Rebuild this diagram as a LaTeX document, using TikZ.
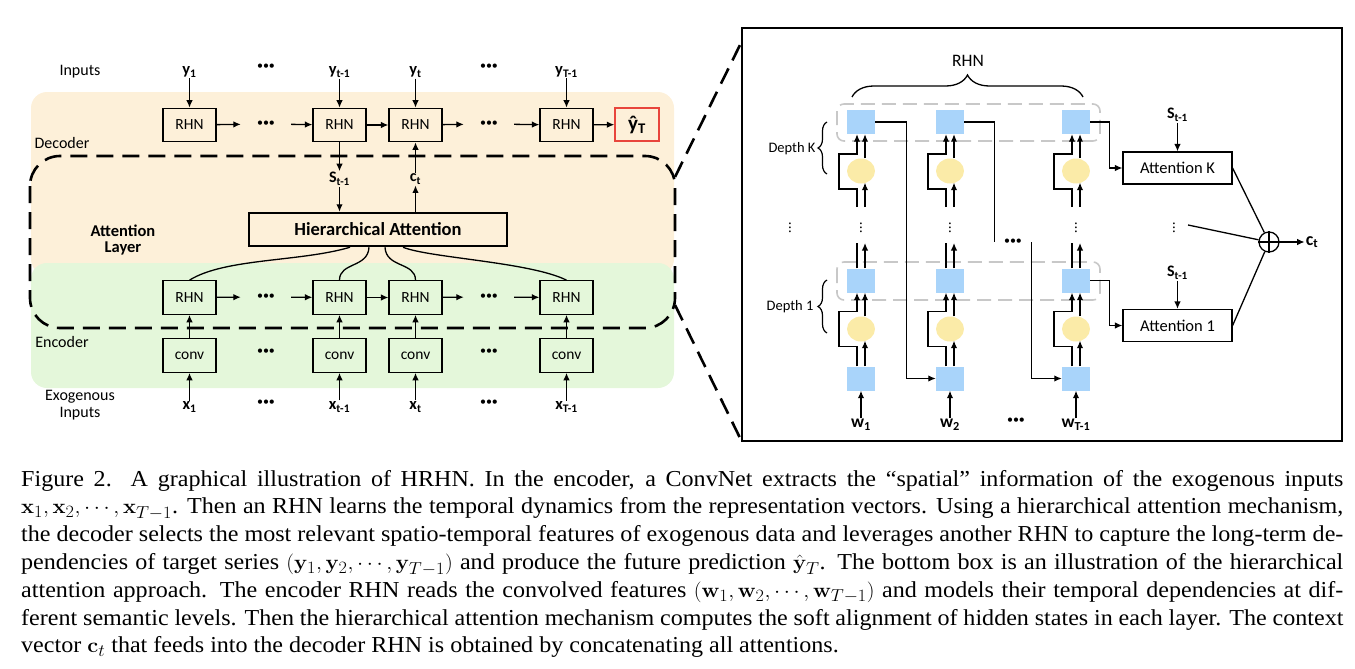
\documentclass[tikz,border=0pt]{standalone}
\usepackage[no-math]{fontspec}
\usepackage{graphicx}
\setmainfont{Liberation Serif}
\newfontfamily\diafont{Carlito}
\usetikzlibrary{arrows.meta,decorations.pathreplacing,shapes.geometric,calc}
\definecolor{decbg}{HTML}{FDF0D9}
\definecolor{encbg}{HTML}{E4F7DA}
\definecolor{sqblue}{HTML}{A9D4FA}
\definecolor{circyel}{HTML}{FBEBA8}
\definecolor{dashgray}{HTML}{C8C8C8}
\definecolor{redbox}{HTML}{E8453C}
\newcommand{\fsz}[1]{\fontsize{#1}{#1}\selectfont}
\tikzset{
  lbox/.style={draw, line width=1.2pt, minimum width=53pt, minimum height=33.5pt, inner sep=0, font=\diafont\fsz{15.5}},
  arr/.style={-{Latex[length=7.5pt,width=6.5pt]}, line width=1.3pt},
  ln/.style={line width=1.3pt},
  hdots/.style={minimum width=50pt, inner sep=0, font=\diafont\fsz{12}},
  lab/.style={inner sep=1pt, font=\diafont\fsz{16}},
  blab/.style={inner sep=1pt, font=\diafont\bfseries\fsz{16.5}},
  sq/.style={fill=sqblue, minimum width=28pt, minimum height=24pt, inner sep=0},
  yc/.style={ellipse, fill=circyel, minimum width=28pt, minimum height=25pt, inner sep=0},
  vd/.style={inner sep=0, font=\fsz{15}},
  bigdash/.style={line width=2.6pt, dash pattern=on 17pt off 9pt},
  graydash/.style={draw=dashgray, line width=1.6pt, dash pattern=on 14pt off 7pt, rounded corners=7pt},
  attbox/.style={draw, line width=1.2pt, minimum width=109pt, minimum height=32pt, inner sep=0, font=\diafont\fsz{16.5}},
}
\begin{document}
\begin{tikzpicture}[x=1pt,y=-1pt]
\useasboundingbox (0,0) rectangle (1355,669);
% ---------- left: backgrounds ----------
\fill[decbg, rounded corners=16pt] (31,92) rectangle (674,275);
\fill[encbg, rounded corners=16pt] (31,263) rectangle (674,388);
\draw[bigdash, rounded corners=30pt] (30,156) rectangle (675,328);
% labels
\node[lab] (inputs) at (80,72) {Inputs};
\node[lab] (decl) at (62,143) {Decoder};
\node[blab, align=center, font=\diafont\bfseries\fontsize{16.5}{16}\selectfont] (attl) at (123,240) {Attention\\Layer};
\node[lab] (encl) at (62,342) {Encoder};
\node[lab, align=center, font=\diafont\fontsize{16}{17.5}\selectfont] (exol) at (80,405) {Exogenous\\Inputs};
% decoder row
\node[blab] (y1) at (189.5,72) {y\textsubscript{1}};
\node[hdots] (ydots1) at (266,67) {•••};
\node[blab] (y2) at (339.5,72) {y\textsubscript{t-1}};
\node[blab] (y3) at (415.5,72) {y\textsubscript{t}};
\node[hdots] (ydots2) at (489,67) {•••};
\node[blab] (y4) at (566.5,72) {y\textsubscript{T-1}};
\node[lbox] (d1) at (189.5,125) {RHN};
\node[hdots] (dd1) at (266,124) {•••};
\node[lbox] (d2) at (339.5,125) {RHN};
\node[lbox] (d3) at (415.5,125) {RHN};
\node[hdots] (dd2) at (489,124) {•••};
\node[lbox] (d4) at (566.5,125) {RHN};
\node[draw=redbox, line width=1.3pt, minimum width=44pt, minimum height=33pt, inner sep=0, font=\diafont\bfseries\fsz{21}] (yh) at (637,124.5) {ŷ\textsubscript{T}};
\foreach \a/\b in {y1/d1,y2/d2,y3/d3,y4/d4} \draw[arr] (\b |- \a.south) -- (\b);
\draw[arr] (d1) -- (dd1); \draw[arr] (dd1) -- (d2); \draw[arr] (d2) -- (d3);
\draw[arr] (d3) -- (dd2); \draw[arr] (dd2) -- (d4); \draw[arr] (d4) -- (yh);
% attention
\node[draw, line width=2.5pt, minimum width=258pt, minimum height=33pt, inner sep=0, font=\diafont\bfseries\fsz{18.5}] (ha) at (378,229.5) {Hierarchical Attention};
\node[blab, font=\diafont\bfseries\fsz{16}] (s) at (339.5,179) {S\textsubscript{t-1}};
\node[blab, font=\diafont\bfseries\fsz{16}] (c) at (415.5,179) {c\textsubscript{t}};
\draw[arr] (d2) -- (d2 |- s.north);
\draw[arr] (s.south) -- (s.south |- ha.north);
\draw[arr] (c.south |- ha.north) -- (c.south);
\draw[arr] (c) -- (d3);
% encoder row
\node[lbox] (e1) at (189.5,297.5) {RHN};
\node[hdots] (ed1) at (266,297) {•••};
\node[lbox] (e2) at (339.5,297.5) {RHN};
\node[lbox] (e3) at (415.5,297.5) {RHN};
\node[hdots] (ed2) at (489,297) {•••};
\node[lbox] (e4) at (566.5,297.5) {RHN};
\draw[arr] (e1) -- (ed1); \draw[arr] (ed1) -- (e2); \draw[arr] (e2) -- (e3);
\draw[arr] (e3) -- (ed2); \draw[arr] (ed2) -- (e4);
\draw[ln] (e1.north) .. controls (225,258) and (300,262) .. ([xshift=-28pt]ha.south);
\draw[ln] (e2.north) .. controls (339.5,262) and (368,268) .. ([xshift=-9pt]ha.south);
\draw[ln] (e3.north) .. controls (415.5,262) and (386,268) .. ([xshift=7pt]ha.south);
\draw[ln] (e4.north) .. controls (530,262) and (430,258) .. ([xshift=25pt]ha.south);
% conv row
\node[lbox] (k1) at (189.5,355.5) {conv};
\node[hdots] (kd1) at (266,352) {•••};
\node[lbox] (k2) at (339.5,355.5) {conv};
\node[lbox] (k3) at (415.5,355.5) {conv};
\node[hdots] (kd2) at (489,352) {•••};
\node[lbox] (k4) at (566.5,355.5) {conv};
\foreach \a/\b in {k1/e1,k2/e2,k3/e3,k4/e4} \draw[arr] (\a) -- (\b);
\node[blab] (x1) at (189.5,407) {x\textsubscript{1}};
\node[hdots] (xd1) at (266,403) {•••};
\node[blab] (x2) at (339.5,407) {x\textsubscript{t-1}};
\node[blab] (x3) at (415.5,407) {x\textsubscript{t}};
\node[hdots] (xd2) at (489,403) {•••};
\node[blab] (x4) at (566.5,407) {x\textsubscript{T-1}};
\foreach \a/\b in {x1/k1,x2/k2,x3/k3,x4/k4} \draw[arr] (\b |- \a.north) -- (\b);
% projection lines
\coordinate (pu) at (675,177);
\coordinate (pl) at (675,305);
\coordinate (ptl) at (740,45);
\coordinate (pbl) at (741,440);
\draw[bigdash] (pu) -- (ptl);
\draw[bigdash] (pl) -- (pbl);
% ---------- right panel ----------
\draw[line width=2pt] (742,28) rectangle (1342,441);
\draw[graydash] (837,104) rectangle (1100,141);
\draw[graydash] (837,262) rectangle (1100,300);
\node[lab, font=\diafont\fsz{17.5}] (rhnl) at (968,61) {RHN};
\coordinate (brl) at (852,97);
\coordinate (brr) at (1083,97);
\draw[line width=1.3pt, decorate, decoration={brace, amplitude=22pt}] (brl) -- (brr);
\node[lab, font=\diafont\fsz{14.5}] (dK) at (792,149) {Depth K};
\node[lab, font=\diafont\fsz{14.5}] (d1l) at (790,307) {Depth 1};
\coordinate (bk1) at (827,174); \coordinate (bk2) at (827,122);
\coordinate (bo1) at (827,333); \coordinate (bo2) at (827,280);
\draw[line width=1.2pt, decorate, decoration={brace, amplitude=9pt}] (bk1) -- (bk2);
\draw[line width=1.2pt, decorate, decoration={brace, amplitude=9pt}] (bo1) -- (bo2);
\node[vd] (lvd) at (790,225) {$\vdots$};
\foreach \c/\n in {861/a,950/b,1076/c} {
  \node[sq] (sqK\n) at (\c,122) {};
  \node[yc] (ciK\n) at (\c,171) {};
  \node[sq] (sqO\n) at (\c,280.5) {};
  \node[yc] (ciO\n) at (\c,329) {};
  \node[sq] (sqZ\n) at (\c,378.5) {};
  \coordinate (kb\n) at (\c,207);
  \coordinate (ot\n) at (\c,243);
  \node[vd] (cd\n) at (\c,225) {$\vdots$};
  \draw[arr] ([xshift=4pt]ciK\n.north) -- ([xshift=4pt]sqK\n.south);
  \draw[arr] ([xshift=4pt]kb\n) -- ([xshift=4pt,yshift=1pt]ciK\n.south);
  \draw[arr] ([xshift=-4pt]kb\n) -- ++(0,-18) -- ++(-18,0) -- ++(0,-35) -- ++(18,0) -- ([xshift=-4pt]sqK\n.south);
  \draw[arr] ([xshift=4pt]sqO\n.north) -- ([xshift=4pt]ot\n);
  \draw[ln] ([xshift=-4pt]sqO\n.north) -- ([xshift=-4pt]ot\n);
  \draw[arr] ([xshift=4pt]ciO\n.north) -- ([xshift=4pt]sqO\n.south);
  \draw[arr] ([xshift=4pt]sqZ\n.north) -- ([xshift=4pt,yshift=1pt]ciO\n.south);
  \draw[arr] ([xshift=-4pt]sqZ\n.north) -- ++(0,-20) -- ++(-18,0) -- ++(0,-35) -- ++(18,0) -- ([xshift=-4pt]sqO\n.south);
}
\node[blab, font=\diafont\bfseries\fsz{17.5}] (w1) at (861,425) {w\textsubscript{1}};
\node[blab, font=\diafont\bfseries\fsz{17.5}] (w2) at (950,425) {w\textsubscript{2}};
\node[hdots] (wd) at (1016,421) {•••};
\node[blab, font=\diafont\bfseries\fsz{17.5}] (w3) at (1076,425) {w\textsubscript{T-1}};
\draw[arr] (sqZa |- w1.north) -- (sqZa);
\draw[arr] (sqZb |- w2.north) -- (sqZb);
\draw[arr] (sqZc |- w3.north) -- (sqZc);
% cross-column connectors
\node[hdots, minimum width=36pt] (rd) at (1013,242) {•••};
\draw[arr] (sqKa.east) -- ++(31,0) |- (sqZb.west);
\draw[ln] (sqKb.east) -| (rd.west);
\draw[arr] (rd.east) |- (sqZc.west);
% attention
\node[attbox] (attK) at (1177.5,168) {Attention K};
\node[attbox] (att1) at (1177.5,325.5) {Attention 1};
\draw[arr] (sqKc.east) -- ++(19,0) |- (attK.west);
\draw[arr] (sqOc.east) -- ++(19,0) |- (att1.west);
\node[blab, font=\diafont\bfseries\fsz{16}] (sK) at (1177.5,115) {S\textsubscript{t-1}};
\node[blab, font=\diafont\bfseries\fsz{16}] (s1) at (1177.5,273) {S\textsubscript{t-1}};
\draw[arr] (attK |- sK.south) -- (attK);
\draw[arr] (att1 |- s1.south) -- (att1);
\node[vd] (avd) at (1174,225) {$\vdots$};
\node[circle, draw, line width=1.3pt, minimum size=20pt, inner sep=0] (op) at (1269,242) {};
\draw[ln] (op.north) -- (op.south);
\draw[ln] (op.west) -- (op.east);
\draw[ln] (attK.east) -- (op);
\draw[ln] ([xshift=12pt]avd.east) -- (op);
\draw[ln] (att1.east) -- (op);
\node[blab, font=\diafont\bfseries\fsz{18}] (ct) at (1312,242) {c\textsubscript{t}};
\draw[arr] (op) -- (ct);
% ---------- caption ----------
\node[anchor=base west, inner sep=0] (cap) at (21,486) {\scalebox{1.056}[1]{\parbox[t]{1252pt}{\fontsize{22.8}{27.8}\selectfont
Figure 2. A graphical illustration of HRHN. In the encoder, a ConvNet extracts the “spatial” information of the exogenous inputs\linebreak
$\mathbf{x}_1, \mathbf{x}_2, \cdots, \mathbf{x}_{T-1}$. Then an RHN learns the temporal dynamics from the representation vectors. Using a hierarchical attention mechanism,\linebreak
the decoder selects the most relevant spatio-temporal features of exogenous data and leverages another RHN to capture the long-term de-\linebreak
pendencies of target series $(\mathbf{y}_1, \mathbf{y}_2, \cdots, \mathbf{y}_{T-1})$ and produce the future prediction $\hat{\mathbf{y}}_T$. The bottom box is an illustration of the hierarchical\linebreak
attention approach. The encoder RHN reads the convolved features $(\mathbf{w}_1, \mathbf{w}_2, \cdots, \mathbf{w}_{T-1})$ and models their temporal dependencies at dif-\linebreak
ferent semantic levels. Then the hierarchical attention mechanism computes the soft alignment of hidden states in each layer. The context\linebreak
vector $\mathbf{c}_t$ that feeds into the decoder RHN is obtained by concatenating all attentions.}}};
\end{tikzpicture}
\end{document}
